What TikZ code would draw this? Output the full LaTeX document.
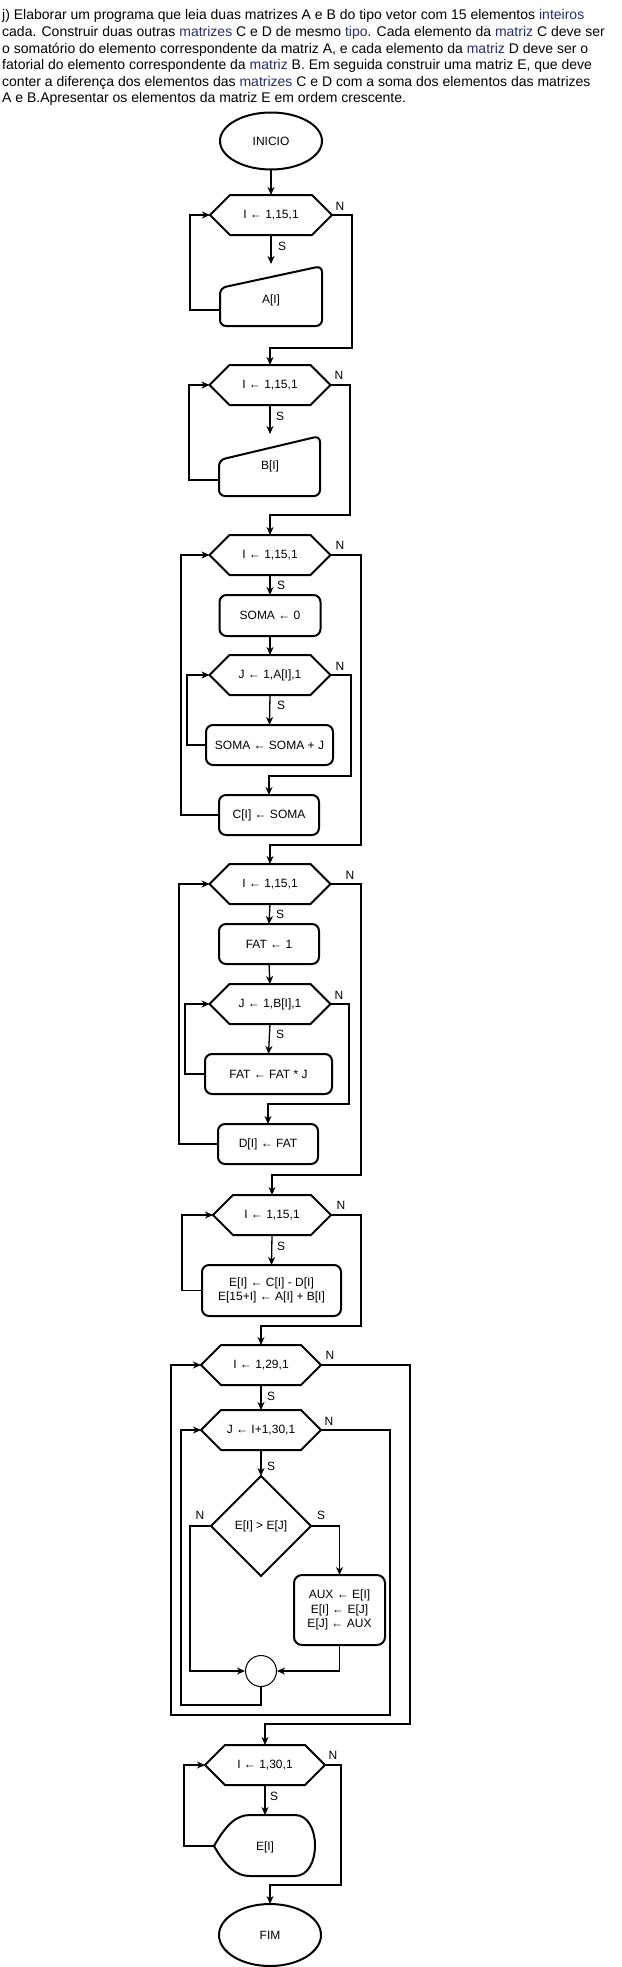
\documentclass[tikz,border=0pt]{standalone}
\usepackage{fontspec}
\setmainfont{Liberation Sans}
\usetikzlibrary{shapes.geometric,arrows.meta}
\definecolor{linkc}{RGB}{40,45,110}
\tikzset{
  shp/.style={draw=black, line width=2pt, line join=miter},
  txt/.style={inner sep=0pt, outer sep=0pt, font=\fontsize{12}{14.5}\selectfont, align=center},
  box/.style={txt, draw=black, line width=2pt, rounded corners=7pt},
  conn/.style={draw=black, line width=1.3pt},
  arr/.style={conn, -{Stealth[length=8pt,width=7pt,inset=2.5pt]}},
  lbl/.style={inner sep=0pt, font=\fontsize{12}{14}\selectfont},
  para/.style={inner sep=0pt, anchor=base west, font=\fontsize{14}{16}\selectfont},
}
\newcommand\hexnode[5]{%
  \node[txt, minimum width=#4, minimum height=40pt] (#1) at (#2,#3) {#5};
  \draw[shp] ([xshift=20pt]#1.north west) -- ([xshift=-20pt]#1.north east) -- (#1.east)
    -- ([xshift=-20pt]#1.south east) -- ([xshift=20pt]#1.south west) -- (#1.west) -- cycle;
}
\begin{document}
\begin{tikzpicture}[x=1pt,y=-1pt]
\fill[white] (0,0) rectangle (621,1967);
\useasboundingbox (0,0) rectangle (621,1967);

% paragraph
\node[para] (t1) at (2,20) {j) Elaborar um programa que leia duas matrizes A e B do tipo vetor com 15 elementos \textcolor{linkc}{inteiros}};
\node[para] (t2) at (2,36.5) {cada. Construir duas outras \textcolor{linkc}{matrizes} C e D de mesmo \textcolor{linkc}{tipo}. Cada elemento da \textcolor{linkc}{matriz} C deve ser};
\node[para] (t3) at (2,53) {o somatório do elemento correspondente da matriz A, e cada elemento da \textcolor{linkc}{matriz} D deve ser o};
\node[para] (t4) at (2,69.5) {fatorial do elemento correspondente da \textcolor{linkc}{matriz} B. Em seguida construir uma matriz E, que deve};
\node[para] (t5) at (2,86) {conter a diferença dos elementos das \textcolor{linkc}{matrizes} C e D com a soma dos elementos das matrizes};
\node[para] (t6) at (2,102.5) {A e B.Apresentar os elementos da matriz E em ordem crescente.};

% INICIO
\node[txt, shp, ellipse, minimum width=102pt, minimum height=57pt] (inicio) at (271,141) {INICIO};
\hexnode{h1}{271}{215}{122pt}{I ← 1,15,1}
\draw[arr] (inicio.south) -- (h1.north);

% A[I]
\draw[shp, rounded corners=6pt] (220,288) -- (322,266) -- (322,326) -- (220,326) -- cycle;
\node[txt] (a) at (271,300) {A[I]};
\coordinate (atop) at (271,264);
\coordinate (aleft) at (220,310);
\draw[arr] (h1.south) -- (atop);
\node[lbl] (s1) at (282,246) {S};
\draw[arr] (aleft) -- (190,310) -- (190,215) -- (h1.west);
\node[lbl] (n1) at (340,206) {N};

\hexnode{h2}{270}{385}{121pt}{I ← 1,15,1}
\draw[arr] (h1.east) -- (352,215) -- (352,348) -| (h2.north);

% B[I]
\draw[shp, rounded corners=6pt] (219,460) -- (320,436) -- (320,496) -- (219,496) -- cycle;
\node[txt] (b) at (270,466) {B[I]};
\coordinate (btop) at (270,434);
\coordinate (bleft) at (219,480);
\draw[arr] (h2.south) -- (btop);
\node[lbl] (s2) at (280,416) {S};
\draw[arr] (bleft) -- (189,480) -- (189,385) -- (h2.west);
\node[lbl] (n2) at (339,375) {N};

% block C
\hexnode{h3}{270}{555}{121pt}{I ← 1,15,1}
\draw[arr] (h2.east) -- (350,385) -- (350,515) -| (h3.north);
\node[box, minimum width=101pt, minimum height=41pt] (soma0) at (270,615.5) {SOMA ← 0};
\draw[arr] (h3.south) -- (soma0.north);
\node[lbl] (s3) at (281,585) {S};
\node[lbl] (n3) at (340,545) {N};
\hexnode{h4}{270}{675}{121pt}{J ← 1,A[I],1}
\draw[arr] (soma0.south) -- (h4.north);
\node[box, minimum width=127pt, minimum height=40pt] (somaj) at (269.5,745) {SOMA ← SOMA + J};
\draw[arr] (h4.south) -- (somaj.north);
\node[lbl] (s4) at (281,705) {S};
\node[lbl] (n4) at (340,666) {N};
\draw[arr] (somaj.west) -- (187,745) -- (187,675) -- (h4.west);
\node[box, minimum width=100pt, minimum height=40pt] (ci) at (269,815) {C[I] ← SOMA};
\draw[arr] (h4.east) -- (351,675) -- (351,776) -| (ci.north);
\draw[arr] (ci.west) -- (181,815) -- (181,555) -- (h3.west);

% block D
\hexnode{h5}{270}{884}{121pt}{I ← 1,15,1}
\draw[arr] (h3.east) -- (361,555) -- (361,845) -| (h5.north);
\node[box, minimum width=100pt, minimum height=40pt] (fat1) at (269,944) {FAT ← 1};
\draw[arr] (h5.south) -- (fat1.north);
\node[lbl] (s5) at (280,914) {S};
\node[lbl] (n5) at (350,875) {N};
\hexnode{h6}{270}{1004}{121pt}{J ← 1,B[I],1}
\draw[arr] (fat1.south) -- (h6.north);
\node[box, minimum width=127pt, minimum height=40pt] (fatj) at (268.5,1074) {FAT ← FAT * J};
\draw[arr] (h6.south) -- (fatj.north);
\node[lbl] (s6) at (280,1034) {S};
\node[lbl] (n6) at (339,995) {N};
\draw[arr] (fatj.west) -- (185,1074) -- (185,1004) -- (h6.west);
\node[box, minimum width=100pt, minimum height=40pt] (di) at (268,1144) {D[I] ← FAT};
\draw[arr] (h6.east) -- (349,1004) -- (349,1104) -| (di.north);
\draw[arr] (di.west) -- (179,1144) -- (179,884) -- (h5.west);

% block E
\hexnode{h7}{272}{1215}{118pt}{I ← 1,15,1}
\draw[arr] (h5.east) -- (361,884) -- (361,1175) -| (h7.north);
\node[box, minimum width=139pt, minimum height=51pt] (e) at (271.5,1290.5) {E[I] ← C[I] - D[I]\\E[15+I] ← A[I] + B[I]};
\draw[arr] (h7.south) -- (e.north);
\node[lbl] (s7) at (281,1246) {S};
\node[lbl] (n7) at (341,1205) {N};
\draw[arr] (e.west) -- (182,1290.5) -- (182,1215) -- (h7.west);

% sort
\hexnode{h8}{261}{1365}{120pt}{I ← 1,29,1}
\draw[arr] (h7.east) -- (361,1215) -- (361,1326) -| (h8.north);
\hexnode{h9}{261}{1430}{120pt}{J ← I+1,30,1}
\draw[arr] (h8.south) -- (h9.north);
\node[lbl] (s8) at (271,1396) {S};
\node[lbl] (n8) at (330,1355) {N};
\node[txt, shp, diamond, minimum width=100pt, minimum height=100pt] (dia) at (261,1526) {E[I] > E[J]};
\draw[arr] (h9.south) -- (dia.north);
\node[lbl] (s9) at (271,1466) {S};
\node[lbl] (n9) at (329,1421) {N};
\node[box, minimum width=91pt, minimum height=70pt, rounded corners=8pt] (aux) at (339.5,1610) {AUX ← E[I]\\E[I] ← E[J]\\E[J] ← AUX};
\node[draw=black, line width=1pt, circle, minimum size=31pt, inner sep=0pt] (circ) at (261,1671) {};
\draw[arr] (dia.east) -| (aux.north);
\node[lbl] (sd) at (321,1515) {S};
\draw[arr] (dia.west) -- (190,1526) |- (circ.west);
\node[lbl] (nd) at (200,1515) {N};
\draw[arr] (aux.south) |- (circ.east);
\draw[arr] (circ.south) -- (261,1705) -- (181,1705) -- (181,1430) -- (h9.west);
\draw[arr] (h9.east) -- (390,1430) -- (390,1715) -- (171,1715) -- (171,1365) -- (h8.west);

% output
\hexnode{h10}{265}{1765}{120pt}{I ← 1,30,1}
\draw[arr] (h8.east) -- (410,1365) -- (410,1724) -| (h10.north);
\draw[shp] (214,1846) .. controls (226,1825) and (236,1815) .. (250,1815) -- (295,1815)
  .. controls (321.7,1815) and (321.7,1876) .. (295,1876) -- (250,1876)
  .. controls (236,1876) and (226,1867) .. (214,1846) -- cycle;
\node[txt] (ei) at (265,1847) {E[I]};
\coordinate (dtop) at (265,1815);
\coordinate (dleft) at (214,1846);
\draw[arr] (h10.south) -- (dtop);
\node[lbl] (s10) at (274,1796) {S};
\draw[arr] (dleft) -- (184,1846) -- (184,1765) -- (h10.west);
\node[txt, shp, ellipse, minimum width=102pt, minimum height=62pt] (fim) at (270,1935) {FIM};
\draw[arr] (h10.east) -- (341,1765) -- (341,1885) -| (fim.north);
\node[lbl] (n10) at (333,1755) {N};
\end{tikzpicture}
\end{document}
